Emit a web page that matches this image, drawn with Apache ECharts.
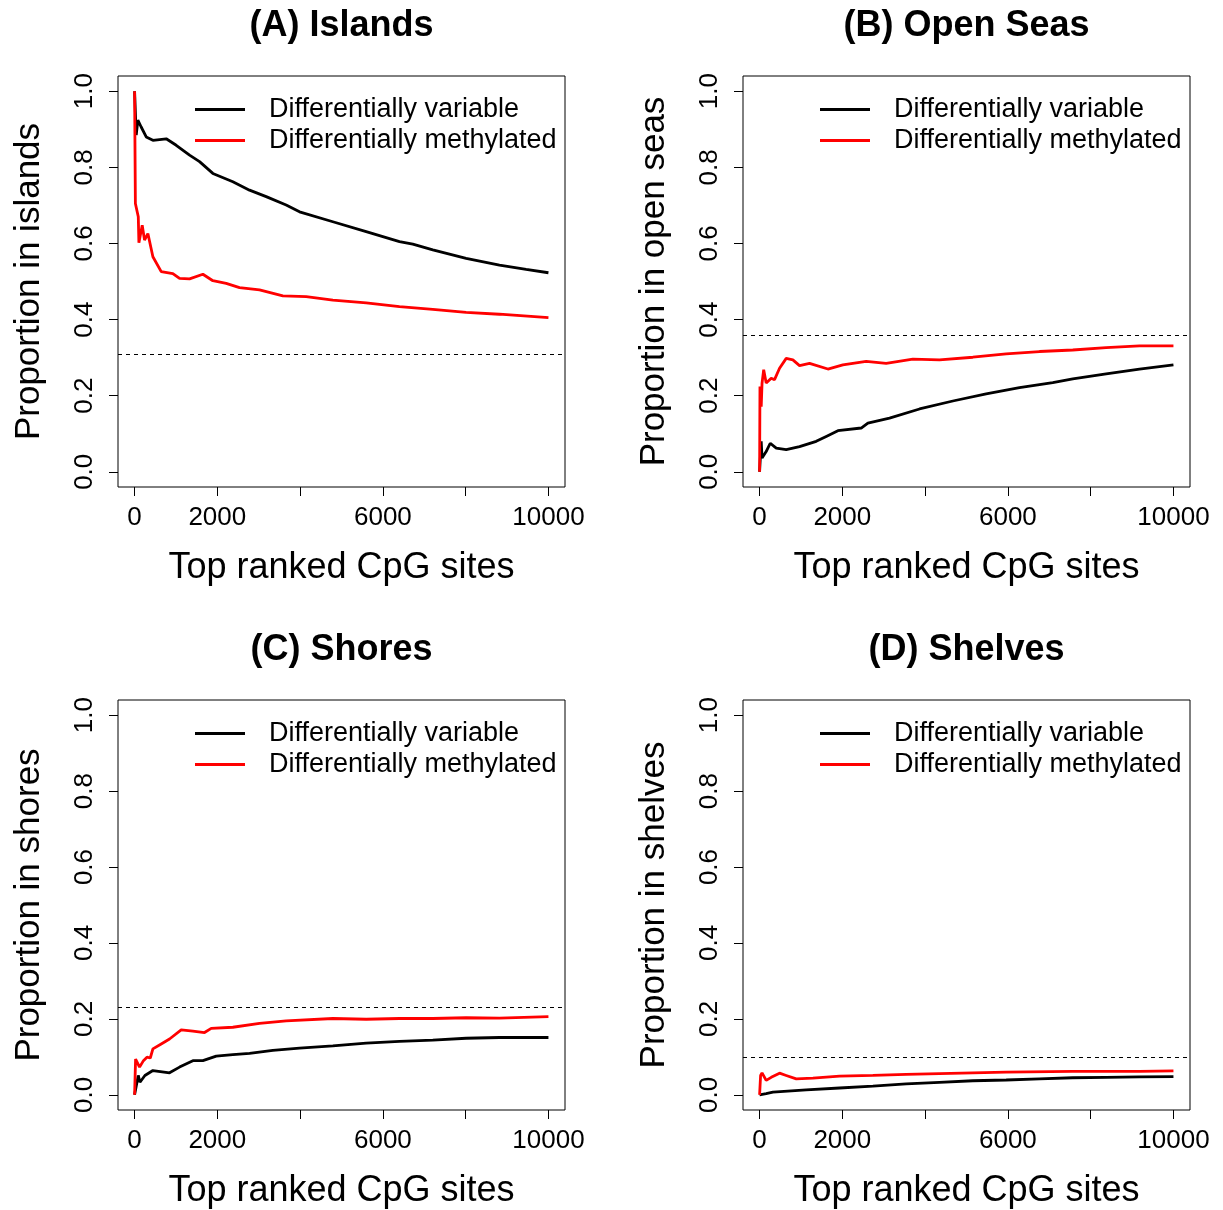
<!DOCTYPE html>
<html>
<head>
<meta charset="utf-8">
<script src="https://cdn.jsdelivr.net/npm/echarts@6/dist/echarts.min.js"></script>
<style>
  html, body { margin: 0; padding: 0; background: #fff; }
  #chart { width: 1223px; height: 1210px; }
</style>
</head>
<body>
<div id="chart"></div>
<script>
// 4 panels: proportion of top ranked CpG sites in each genomic region,
// differentially variable (black) vs differentially methylated (red).
const FONT = '"Liberation Sans", Arial, Helvetica, sans-serif';

const titles = ['(A) Islands', '(B) Open Seas', '(C) Shores', '(D) Shelves'];
const yNames = ['Proportion in islands', 'Proportion in open seas', 'Proportion in shores', 'Proportion in shelves'];
const seriesNames = ['Differentially variable', 'Differentially methylated'];
const xTicks = [0, 2000, 4000, 6000, 8000, 10000];
const xLabels = [0, 2000, 6000, 10000];
const yTicks = [0, 0.2, 0.4, 0.6, 0.8, 1.0];
// dashed line = proportion of all CpG sites in the region
const baselines = [0.313, 0.363, 0.230, 0.096];

// [rank, proportion]
const islandsDV = [[1, 1.0], [40, 0.885], [80, 0.924], [160, 0.906], [282, 0.88], [443, 0.871], [765, 0.875],
  [1007, 0.858], [1329, 0.832], [1570, 0.815], [1892, 0.784], [2375, 0.762], [2778, 0.74], [3180, 0.723],
  [3663, 0.701], [3986, 0.683], [4791, 0.657], [5596, 0.631], [6401, 0.605], [6723, 0.598], [7206, 0.583],
  [8011, 0.561], [8816, 0.543], [9461, 0.532], [10000, 0.523]];
const islandsDM = [[1, 1.0], [20, 0.705], [90, 0.67], [105, 0.602], [185, 0.648], [241, 0.609], [322, 0.626],
  [443, 0.565], [644, 0.526], [925, 0.521], [1087, 0.508], [1329, 0.507], [1651, 0.519], [1892, 0.502],
  [2214, 0.495], [2536, 0.484], [3019, 0.478], [3583, 0.462], [4147, 0.46], [4791, 0.451], [5596, 0.444],
  [6401, 0.434], [7206, 0.427], [8011, 0.419], [8816, 0.414], [10000, 0.405]];

const openSeasDV = [[1, 0], [40, 0.08], [60, 0.036], [160, 0.053], [258, 0.075], [403, 0.062], [644, 0.058],
  [966, 0.066], [1369, 0.08], [1611, 0.093], [1893, 0.108], [2456, 0.115], [2617, 0.128], [3140, 0.141],
  [3865, 0.165], [4670, 0.186], [5475, 0.205], [6280, 0.221], [7085, 0.234], [7568, 0.244], [8374, 0.257],
  [9179, 0.27], [10000, 0.281]];
const openSeasDM = [[1, 0], [10, 0.224], [40, 0.171], [60, 0.233], [100, 0.268], [160, 0.233], [282, 0.246],
  [362, 0.242], [483, 0.272], [644, 0.298], [805, 0.294], [966, 0.279], [1208, 0.285], [1651, 0.27],
  [2013, 0.281], [2576, 0.29], [3059, 0.285], [3703, 0.296], [4348, 0.294], [5153, 0.301], [5958, 0.31],
  [6763, 0.316], [7568, 0.32], [8374, 0.326], [9179, 0.331], [10000, 0.331]];

const shoresDV = [[1, 0], [90, 0.051], [130, 0.033], [250, 0.051], [443, 0.064], [845, 0.058], [1087, 0.073],
  [1409, 0.09], [1651, 0.09], [1973, 0.102], [2375, 0.106], [2778, 0.109], [3341, 0.117], [3986, 0.123],
  [4791, 0.129], [5596, 0.136], [6401, 0.141], [7206, 0.144], [8011, 0.149], [8816, 0.151], [10000, 0.151]];
const shoresDM = [[1, 0], [25, 0.094], [70, 0.094], [121, 0.073], [215, 0.09], [300, 0.099], [380, 0.097],
  [443, 0.121], [644, 0.134], [845, 0.147], [1127, 0.171], [1409, 0.168], [1691, 0.164], [1852, 0.175],
  [2375, 0.178], [3019, 0.188], [3663, 0.195], [4791, 0.201], [5596, 0.199], [6401, 0.201], [7206, 0.201],
  [8011, 0.203], [8816, 0.202], [10000, 0.206]];

const shelvesDV = [[1, 0], [160, 0.003], [322, 0.007], [1127, 0.013], [1933, 0.018], [2738, 0.023],
  [3543, 0.029], [4348, 0.033], [5153, 0.037], [5958, 0.039], [6763, 0.042], [7568, 0.045], [8374, 0.046],
  [9179, 0.047], [10000, 0.048]];
const shelvesDM = [[1, 0], [25, 0.051], [60, 0.058], [160, 0.038], [282, 0.046], [483, 0.057], [644, 0.051],
  [886, 0.042], [1289, 0.044], [1933, 0.049], [2738, 0.051], [3543, 0.054], [4348, 0.056], [5958, 0.06],
  [7568, 0.062], [9179, 0.062], [10000, 0.063]];

const dvData = [islandsDV, openSeasDV, shoresDV, shelvesDV];
const dmData = [islandsDM, openSeasDM, shoresDM, shelvesDM];

// panel boxes: 2 x 2
const boxLeft = [118, 743, 118, 743];
const boxTop = [76, 76, 700, 700];
const BOX_W = 447, BOX_H = 411;

const chart = echarts.init(document.getElementById('chart'), null, { renderer: 'canvas' });

const option = {
  backgroundColor: '#fff',
  animation: false,
  textStyle: { fontFamily: FONT, color: '#000' },
  title: titles.map((t, i) => ({
    text: t, left: boxLeft[i] + BOX_W / 2, top: boxTop[i] - 68, textAlign: 'center', padding: 0,
    textStyle: { fontFamily: FONT, fontWeight: 'bold', fontSize: 36, color: '#000' },
  })),
  legend: titles.map((t, i) => ({
    data: seriesNames, orient: 'vertical', left: boxLeft[i] + 77, top: boxTop[i] + 20,
    padding: 0, icon: 'rect', itemWidth: 50, itemHeight: 3, itemGap: 4, selectedMode: false,
    textStyle: { fontFamily: FONT, fontSize: 27, lineHeight: 27, color: '#000', padding: [0, 0, 0, 19] },
  })),
  grid: titles.map((t, i) => ({
    left: boxLeft[i], top: boxTop[i], width: BOX_W, height: BOX_H,
    show: true, borderColor: '#000', borderWidth: 1, backgroundColor: 'transparent',
  })),
  xAxis: titles.map((t, i) => ({
    type: 'value', gridIndex: i, min: -400, max: 10400,
    name: 'Top ranked CpG sites', nameLocation: 'middle', nameGap: 63,
    nameTextStyle: { fontFamily: FONT, fontSize: 36, color: '#000' },
    axisLine: { show: false, onZero: false },
    axisTick: { show: true, length: 9, customValues: xTicks, lineStyle: { color: '#000', width: 1 } },
    axisLabel: {
      customValues: xLabels, margin: 18, fontFamily: FONT, fontSize: 26, color: '#000',
      formatter: v => String(v),
    },
    splitLine: { show: false },
  })),
  yAxis: titles.map((t, i) => ({
    type: 'value', gridIndex: i, min: -0.04, max: 1.04,
    name: yNames[i], nameLocation: 'middle', nameGap: 71,
    nameTextStyle: { fontFamily: FONT, fontSize: 35, color: '#000' },
    axisLine: { show: false, onZero: false },
    axisTick: { show: true, length: 9, customValues: yTicks, lineStyle: { color: '#000', width: 1 } },
    axisLabel: {
      customValues: yTicks, rotate: 90, margin: 20, fontFamily: FONT, fontSize: 26, color: '#000',
      formatter: v => v.toFixed(1),
    },
    splitLine: { show: false },
  })),
  series: [],
};

titles.forEach((t, i) => {
  option.series.push({
    name: seriesNames[0], type: 'line', xAxisIndex: i, yAxisIndex: i, data: dvData[i],
    symbol: 'none', showSymbol: false, color: '#000', lineStyle: { color: '#000', width: 2.8 },
    markLine: {
      silent: true, symbol: 'none', label: { show: false },
      lineStyle: { color: '#000', width: 1, type: [4, 4] },
      data: [{ yAxis: baselines[i] }],
    },
  });
  option.series.push({
    name: seriesNames[1], type: 'line', xAxisIndex: i, yAxisIndex: i, data: dmData[i],
    symbol: 'none', showSymbol: false, color: '#ff0000', lineStyle: { color: '#ff0000', width: 2.8 },
  });
});

chart.setOption(option);
</script>
</body>
</html>
